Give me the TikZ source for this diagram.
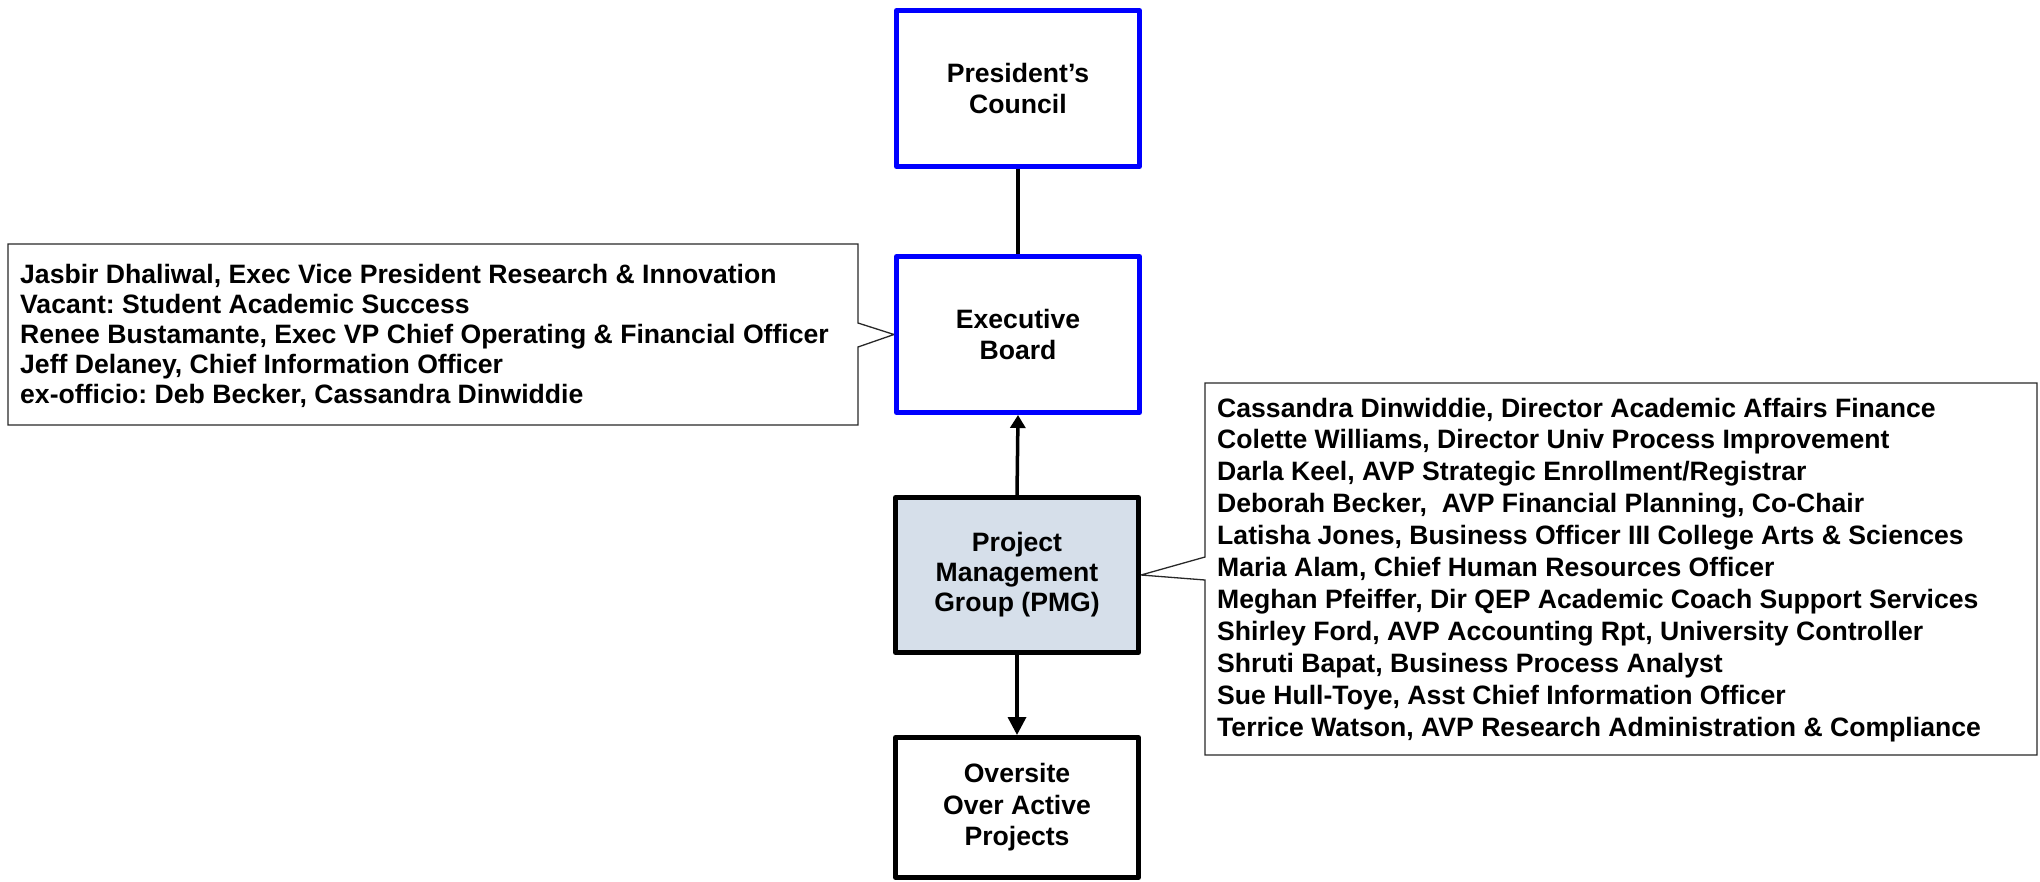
\documentclass[tikz,border=0pt]{standalone}
\usepackage{fontspec}
\setmainfont{Liberation Sans}
\usetikzlibrary{arrows.meta}
\definecolor{pmgfill}{RGB}{214,223,234}
\definecolor{boxblue}{RGB}{0,0,255}
\definecolor{calloutgray}{RGB}{40,40,40}
\pgfdeclarelayer{background}
\pgfsetlayers{background,main}
\frenchspacing
\begin{document}
\begin{tikzpicture}[x=1pt,y=-1pt,
  orgbox/.style={draw, line width=5pt, minimum width=243pt, inner sep=0pt, align=center, line join=round,
     font=\bfseries\fontsize{26.6pt}{31pt}\selectfont},
  bluebox/.style={orgbox, draw=boxblue, fill=white},
  blackbox/.style={orgbox, draw=black},
  conn/.style={draw=black, line width=3.5pt},
  callout/.style={draw=calloutgray, line width=1.3pt, fill=white, line join=miter},
  ctext/.style={anchor=base west, inner sep=0pt, font=\bfseries\fontsize{26.6pt}{31pt}\selectfont}]
\useasboundingbox (0,0) rectangle (2040,881);
% boxes
\node[bluebox, minimum height=156pt] (pres) at (1018,88.5) {President’s\\Council};
\node[bluebox, minimum height=156pt] (exec) at (1018,334.5) {Executive\\Board};
\node[blackbox, fill=pmgfill, minimum height=155pt, font=\bfseries\fontsize{26.6pt}{30pt}\selectfont] (pmg) at (1017,575) {Project\\Management\\Group (PMG)};
\node[blackbox, fill=white, minimum height=140pt, font=\bfseries\fontsize{26.6pt}{31.5pt}\selectfont] (over) at (1017,807.5) {Oversite\\Over Active\\Projects};
% callouts
\coordinate (lc1) at (8,244);
\coordinate (lc2) at (858,244);
\coordinate (lc3) at (858,323);
\coordinate (lc4) at (858,347);
\coordinate (lc5) at (858,425);
\coordinate (lc6) at (8,425);
\coordinate (rc1) at (1205,383);
\coordinate (rc2) at (2037,383);
\coordinate (rc3) at (2037,755);
\coordinate (rc4) at (1205,755);
\coordinate (rc5) at (1205,580);
\coordinate (rc6) at (1205,557);
\begin{pgfonlayer}{background}
\draw[callout] (lc1) -- (lc2) -- (lc3) -- (exec.west) -- (lc4) -- (lc5) -- (lc6) -- cycle;
\draw[callout] (rc1) -- (rc2) -- (rc3) -- (rc4) -- (rc5) -- (pmg.east) -- (rc6) -- cycle;
\end{pgfonlayer}
% callout texts
\foreach \t [count=\i] in {
  {Jasbir Dhaliwal, Exec Vice President Research \& Innovation},
  {Vacant: Student Academic Success},
  {Renee Bustamante, Exec VP Chief Operating \& Financial Officer},
  {Jeff Delaney, Chief Information Officer},
  {ex-officio: Deb Becker, Cassandra Dinwiddie}}
  \node[ctext] (ltext\i) at (20,{283+30*(\i-1)}) {\t};
\foreach \t [count=\i] in {
  {Cassandra Dinwiddie, Director Academic Affairs Finance},
  {Colette Williams, Director Univ Process Improvement},
  {Darla Keel, AVP Strategic Enrollment/Registrar},
  {Deborah Becker,~ AVP Financial Planning, Co-Chair},
  {Latisha Jones, Business Officer III College Arts \& Sciences},
  {Maria Alam, Chief Human Resources Officer},
  {Meghan Pfeiffer, Dir QEP Academic Coach Support Services},
  {Shirley Ford, AVP Accounting Rpt, University Controller},
  {Shruti Bapat, Business Process Analyst},
  {Sue Hull-Toye, Asst Chief Information Officer},
  {Terrice Watson, AVP Research Administration \& Compliance}}
  \node[ctext] (rtext\i) at (1217,{417+31.9*(\i-1)}) {\t};
% connectors
\draw[conn] (pres.south) -- (exec.north);
\draw[conn, -{Triangle[width=15pt,length=13pt]}] (pmg.north) -- (exec.south);
\draw[conn, -{Triangle[width=18pt,length=18pt]}] (pmg.south) -- (over.north);
\end{tikzpicture}
\end{document}
